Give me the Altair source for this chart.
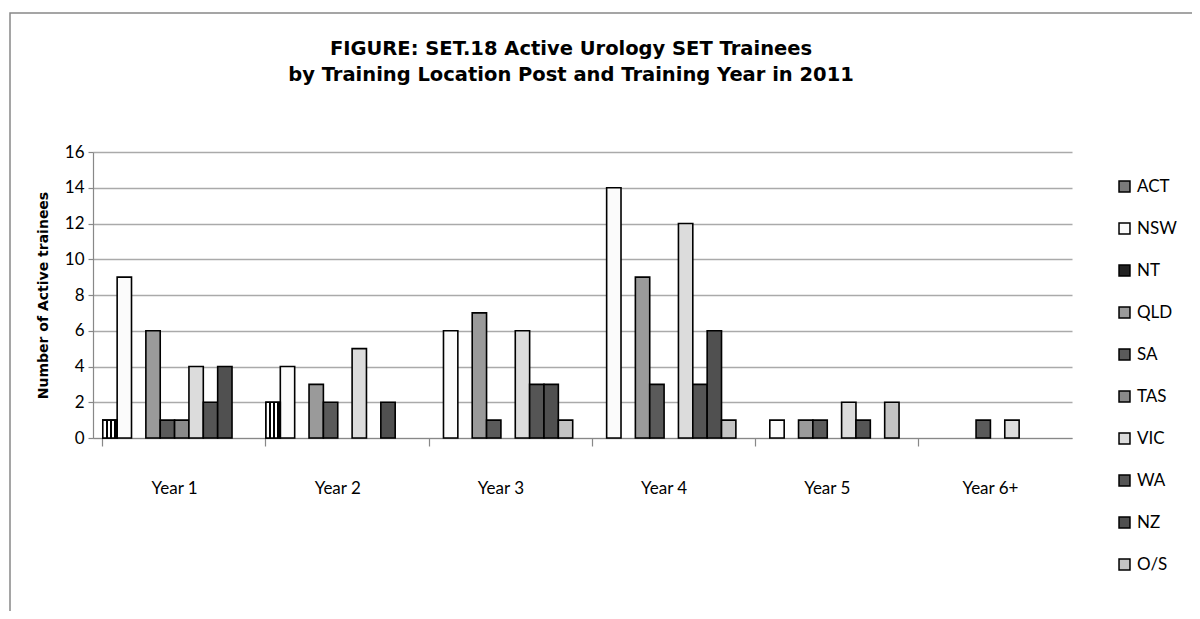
import altair as alt
import pandas as pd

years = ["Year 1", "Year 2", "Year 3", "Year 4", "Year 5", "Year 6+"]
locations = ["ACT", "NSW", "NT", "QLD", "SA", "TAS", "VIC", "WA", "NZ", "O/S"]

act = [1, 2, 0, 0, 0, 0]
nsw = [9, 4, 6, 14, 1, 0]
nt = [0, 0, 0, 0, 0, 0]
qld = [6, 3, 7, 9, 1, 0]
sa = [1, 2, 1, 3, 1, 1]
tas = [1, 0, 0, 0, 0, 0]
vic = [4, 5, 6, 12, 2, 1]
wa = [2, 0, 3, 3, 1, 0]
nz = [4, 2, 3, 6, 0, 0]
os_ = [0, 0, 1, 1, 2, 0]

title_lines = ["FIGURE: SET.18 Active Urology SET Trainees",
               "by Training Location Post and Training Year in 2011"]

series = [act, nsw, nt, qld, sa, tas, vic, wa, nz, os_]
fills = ["#7a7a7a", "#fbfbfb", "#222222", "#9a9a9a", "#5a5a5a",
         "#8a8a8a", "#dcdcdc", "#555555", "#505050", "#c4c4c4"]

rows = []
for loc, vals in zip(locations, series):
    for yr, v in zip(years, vals):
        rows.append({"Year": yr, "Location": loc, "Count": v})
df = pd.DataFrame(rows)

FONT = "Lato"

x_enc = alt.X("Year:N", sort=years,
              scale=alt.Scale(domain=years, paddingInner=0.12, paddingOuter=0.06),
              axis=alt.Axis(title=None, labelAngle=0, labelFont=FONT, labelFontSize=17,
                            labelColor="black", labelPadding=34, tickSize=8,
                            tickColor="#888", domainColor="#888", bandPosition=0,
                            tickWidth=1.2, domainWidth=1.2))
xoff_enc = alt.XOffset("Location:N", sort=locations,
                       scale=alt.Scale(domain=locations, paddingInner=0, paddingOuter=0))
y_enc = alt.Y("Count:Q", scale=alt.Scale(domain=[0, 16]),
              axis=alt.Axis(values=list(range(0, 17, 2)), title="Number of Active trainees",
                            titleFont="DejaVu Sans", titleFontSize=14, titleFontWeight="bold",
                            titleColor="black", titlePadding=14,
                            labelFont=FONT, labelFontSize=17, labelColor="black",
                            labelPadding=4, tickSize=5, tickColor="#888",
                            domainColor="#888", gridColor="#aaaaaa", gridWidth=1.5,
                            tickWidth=1.2, domainWidth=1.2))

base = alt.Chart(df).transform_filter("datum.Count > 0")

bars = base.mark_bar(stroke="black", strokeWidth=1.6).encode(
    x=x_enc, xOffset=xoff_enc, y=y_enc,
    fill=alt.Fill("Location:N", sort=locations,
                  scale=alt.Scale(domain=locations, range=fills),
                  legend=alt.Legend(title=None, orient="none", legendX=1023, legendY=26,
                                    symbolType="square", symbolSize=120,
                                    symbolStrokeColor="black", symbolStrokeWidth=1.5,
                                    labelFont=FONT, labelFontSize=17, labelColor="black",
                                    rowPadding=24, labelOffset=4)),
)

# vertical stripe pattern for ACT
stripe_stops = []
edges = [0.0, 0.22, 0.36, 0.50, 0.64, 0.78, 1.0]
cols = ["white", "black", "white", "black", "white", "black"]
for i, c in enumerate(cols):
    stripe_stops.append(alt.GradientStop(offset=edges[i], color=c))
    stripe_stops.append(alt.GradientStop(offset=edges[i + 1], color=c))

act_overlay = base.transform_filter("datum.Location == 'ACT'").mark_bar(
    stroke="black", strokeWidth=1.6,
    fill=alt.LinearGradient(gradient="linear", stops=stripe_stops, x1=0, x2=1, y1=0, y2=0),
).encode(x=x_enc, xOffset=xoff_enc, y=y_enc)

frame = alt.Chart(pd.DataFrame({"a": [0]})).mark_rect(
    fill=None, stroke="#888888", strokeWidth=1.5
).encode(x=alt.value(-83), x2=alt.value(1102), y=alt.value(-139), y2=alt.value(470))

title = alt.Chart(pd.DataFrame({"a": [0]})).mark_text(
    text=title_lines, font="DejaVu Sans", fontSize=19.5, fontWeight="bold",
    color="black", align="center", baseline="middle", lineHeight=26,
).encode(x=alt.value(478), y=alt.value(-103))

chart = alt.layer(frame, title, bars, act_overlay).properties(
    width=979, height=286,
    autosize=alt.AutoSizeParams(type="none"),
    padding={"left": 85, "top": 144, "right": 120, "bottom": 173},
).configure_view(stroke=None)

chart.save("out.html", embed_options={"renderer": "svg", "actions": False})
